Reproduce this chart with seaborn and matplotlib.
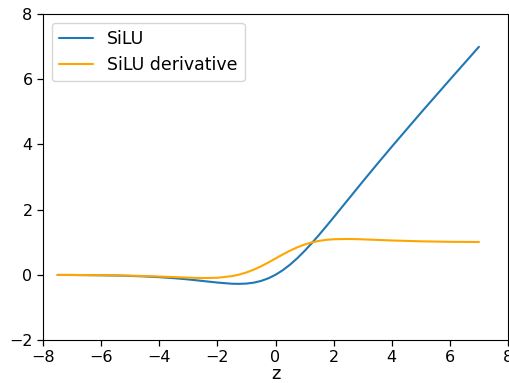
import matplotlib
matplotlib.use("Agg")
import matplotlib.pyplot as plt
import seaborn as sns
import pandas as pd

z = [-7.5, -7.0, -6.5, -6.0, -5.5, -5.0, -4.5, -4.0, -3.5, -3.0, -2.5, -2.0,
     -1.5, -1.25, -1.0, -0.75, -0.5, -0.25, 0.0, 0.25, 0.5, 0.75, 1.0, 1.25,
     1.5, 1.75, 2.0, 2.5, 3.0, 3.5, 4.0, 5.0, 6.0, 7.0]
silu = [-0.004, -0.006, -0.010, -0.015, -0.022, -0.034, -0.050, -0.072, -0.103,
        -0.142, -0.190, -0.238, -0.274, -0.278, -0.269, -0.241, -0.189, -0.109,
        0.0, 0.141, 0.311, 0.509, 0.731, 0.972, 1.226, 1.491, 1.762, 2.310,
        2.858, 3.398, 3.928, 4.967, 5.985, 6.994]
silu_deriv = [-0.004, -0.005, -0.008, -0.012, -0.018, -0.027, -0.038, -0.053,
              -0.070, -0.088, -0.100, -0.091, -0.041, 0.006, 0.072, 0.157, 0.260,
              0.376, 0.500, 0.624, 0.740, 0.843, 0.928, 0.994, 1.041, 1.073,
              1.091, 1.099, 1.088, 1.070, 1.053, 1.027, 1.012, 1.006]

df = pd.DataFrame({"z": z, "silu": silu, "deriv": silu_deriv})

sns.set_style("ticks")
plt.rcParams['font.family'] = ['DejaVu Sans']
plt.rcParams['text.color'] = 'black'
plt.rcParams['axes.labelcolor'] = 'black'
plt.rcParams['xtick.color'] = 'black'
plt.rcParams['ytick.color'] = 'black'
plt.rcParams['axes.edgecolor'] = 'black'

fig = plt.figure(figsize=(5.1, 3.83), dpi=100)
ax = fig.add_axes([43/510, 43/383, 465/510, 326/383])
sns.lineplot(data=df, x="z", y="silu", ax=ax, color="#1f77b4", label="SiLU", linewidth=1.5)
sns.lineplot(data=df, x="z", y="deriv", ax=ax, color="orange", label="SiLU derivative", linewidth=1.5)
ax.set_xlim(-8, 8)
ax.set_ylim(-2, 8)
ax.set_xticks([-8, -6, -4, -2, 0, 2, 4, 6, 8])
ax.set_yticks([-2, 0, 2, 4, 6, 8])
ax.tick_params(labelsize=11.5, length=4, width=0.9)
ax.set_xlabel("z", fontsize=13, labelpad=0)
ax.set_ylabel("")
ax.legend(loc="upper left", fontsize=12.5)
fig.savefig("out.png", dpi=100)
